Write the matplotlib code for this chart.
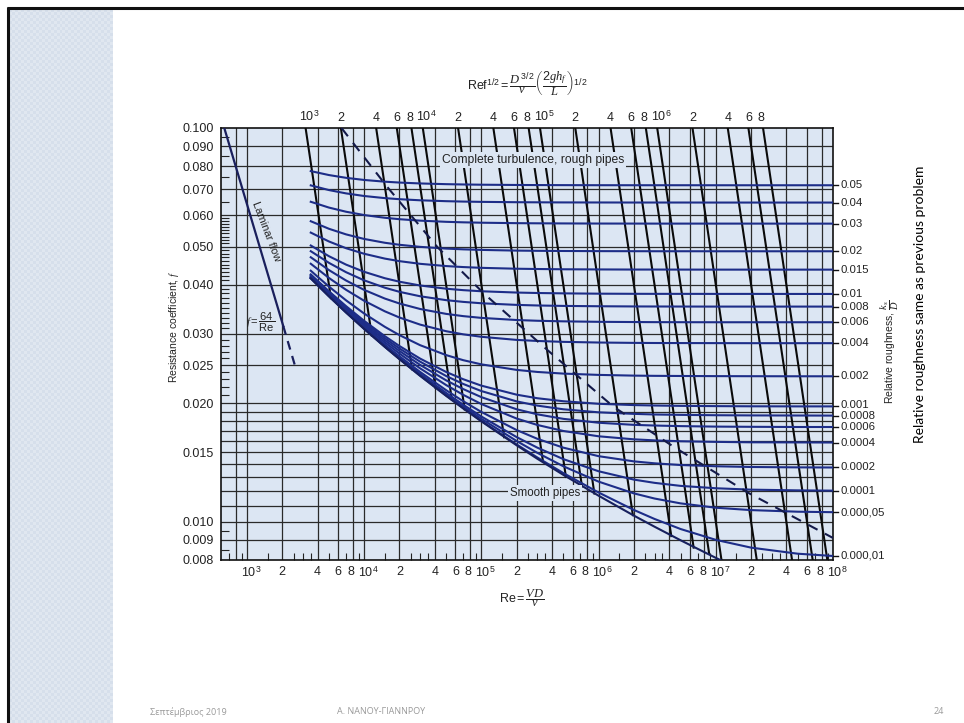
import numpy as np
import matplotlib
matplotlib.use("Agg")
import matplotlib.pyplot as plt
import matplotlib.transforms as mtransforms
from matplotlib.colors import ListedColormap
from matplotlib.lines import Line2D
from matplotlib.ticker import NullFormatter, NullLocator

plt.rcParams['font.family'] = ['Liberation Sans', 'DejaVu Sans']
plt.rcParams['mathtext.fontset'] = 'custom'
plt.rcParams['mathtext.rm'] = 'Liberation Sans'
plt.rcParams['mathtext.it'] = 'Liberation Serif:italic'
plt.rcParams['mathtext.bf'] = 'Liberation Sans:bold'

re_pts = [3500, 5000, 7000, 1e4, 1.5e4, 2e4, 3e4, 5e4, 7e4, 1e5, 2e5, 3e5, 5e5,
          1e6, 2e6, 3e6, 5e6, 1e7, 2e7, 5e7, 1e8]

# resistance coefficient f for each relative roughness
f_r05 = [0.07772, 0.07595, 0.07473, 0.07380, 0.07306, 0.07269, 0.07231, 0.07201, 0.07188, 0.07178, 0.07167, 0.07163, 0.07160, 0.07157, 0.07156, 0.07156, 0.07156, 0.07155, 0.07155, 0.07155, 0.07155]
f_r04 = [0.07150, 0.06957, 0.06823, 0.06719, 0.06637, 0.06595, 0.06553, 0.06519, 0.06504, 0.06493, 0.06480, 0.06476, 0.06472, 0.06470, 0.06468, 0.06468, 0.06468, 0.06467, 0.06467, 0.06467, 0.06467]
f_r03 = [0.06496, 0.06280, 0.06129, 0.06011, 0.05916, 0.05867, 0.05818, 0.05778, 0.05761, 0.05748, 0.05733, 0.05728, 0.05724, 0.05720, 0.05719, 0.05718, 0.05718, 0.05718, 0.05718, 0.05717, 0.05717]
f_r02 = [0.05798, 0.05548, 0.05369, 0.05227, 0.05112, 0.05052, 0.04991, 0.04941, 0.04919, 0.04903, 0.04883, 0.04877, 0.04872, 0.04868, 0.04866, 0.04865, 0.04865, 0.04864, 0.04864, 0.04864, 0.04864]
f_r015 = [0.05425, 0.05151, 0.04952, 0.04793, 0.04660, 0.04591, 0.04520, 0.04461, 0.04435, 0.04415, 0.04392, 0.04385, 0.04378, 0.04374, 0.04371, 0.04371, 0.04370, 0.04369, 0.04369, 0.04369, 0.04369]
f_r01 = [0.05031, 0.04726, 0.04499, 0.04313, 0.04155, 0.04071, 0.03982, 0.03908, 0.03875, 0.03850, 0.03821, 0.03811, 0.03803, 0.03796, 0.03793, 0.03792, 0.03792, 0.03791, 0.03791, 0.03790, 0.03790]
f_r008 = [0.04866, 0.04546, 0.04304, 0.04103, 0.03931, 0.03837, 0.03739, 0.03655, 0.03618, 0.03589, 0.03555, 0.03543, 0.03534, 0.03527, 0.03523, 0.03522, 0.03521, 0.03520, 0.03520, 0.03520, 0.03520]
f_r006 = [0.04697, 0.04358, 0.04100, 0.03880, 0.03689, 0.03584, 0.03471, 0.03373, 0.03329, 0.03295, 0.03254, 0.03240, 0.03229, 0.03220, 0.03216, 0.03214, 0.03213, 0.03212, 0.03212, 0.03212, 0.03212]
f_r004 = [0.04522, 0.04162, 0.03883, 0.03641, 0.03424, 0.03302, 0.03168, 0.03048, 0.02993, 0.02950, 0.02897, 0.02879, 0.02864, 0.02853, 0.02847, 0.02845, 0.02844, 0.02843, 0.02842, 0.02842, 0.02842]
f_r002 = [0.04341, 0.03957, 0.03651, 0.03379, 0.03127, 0.02979, 0.02809, 0.02651, 0.02573, 0.02511, 0.02431, 0.02402, 0.02379, 0.02361, 0.02351, 0.02348, 0.02346, 0.02344, 0.02343, 0.02342, 0.02342]
f_r001 = [0.04248, 0.03850, 0.03529, 0.03238, 0.02961, 0.02795, 0.02597, 0.02402, 0.02302, 0.02217, 0.02103, 0.02060, 0.02024, 0.01994, 0.01979, 0.01974, 0.01970, 0.01967, 0.01965, 0.01964, 0.01964]
f_r0008 = [0.04229, 0.03828, 0.03504, 0.03209, 0.02926, 0.02755, 0.02551, 0.02346, 0.02239, 0.02148, 0.02022, 0.01973, 0.01931, 0.01897, 0.01880, 0.01873, 0.01869, 0.01865, 0.01863, 0.01862, 0.01861]
f_r0006 = [0.04210, 0.03806, 0.03478, 0.03179, 0.02891, 0.02715, 0.02503, 0.02287, 0.02173, 0.02073, 0.01931, 0.01875, 0.01826, 0.01785, 0.01763, 0.01756, 0.01750, 0.01745, 0.01743, 0.01741, 0.01741]
f_r0004 = [0.04191, 0.03784, 0.03453, 0.03149, 0.02855, 0.02674, 0.02453, 0.02225, 0.02101, 0.01991, 0.01829, 0.01762, 0.01701, 0.01649, 0.01620, 0.01610, 0.01602, 0.01596, 0.01592, 0.01591, 0.01590]
f_r0002 = [0.04172, 0.03762, 0.03427, 0.03119, 0.02818, 0.02632, 0.02402, 0.02159, 0.02024, 0.01901, 0.01710, 0.01625, 0.01543, 0.01468, 0.01424, 0.01408, 0.01394, 0.01384, 0.01378, 0.01375, 0.01374]
f_r0001 = [0.04162, 0.03750, 0.03414, 0.03104, 0.02799, 0.02610, 0.02375, 0.02125, 0.01983, 0.01851, 0.01641, 0.01543, 0.01443, 0.01344, 0.01280, 0.01256, 0.01234, 0.01217, 0.01207, 0.01202, 0.01200]
f_r00005 = [0.04158, 0.03745, 0.03408, 0.03096, 0.02790, 0.02599, 0.02362, 0.02107, 0.01962, 0.01826, 0.01604, 0.01497, 0.01384, 0.01265, 0.01181, 0.01146, 0.01114, 0.01086, 0.01071, 0.01061, 0.01058]
f_r00001 = [0.04154, 0.03740, 0.03402, 0.03090, 0.02782, 0.02591, 0.02351, 0.02093, 0.01945, 0.01804, 0.01572, 0.01457, 0.01330, 0.01187, 0.01072, 0.01017, 0.00959, 0.00900, 0.00860, 0.00830, 0.00819]
f_smooth = [0.04153, 0.03739, 0.03401, 0.03088, 0.02781, 0.02588, 0.02348, 0.02089, 0.01940, 0.01799, 0.01564, 0.01446, 0.01316, 0.01165, 0.01037, 0.00972, 0.00898, 0.00810, 0.00734, 0.00649, 0.00594]

rough_curves = [f_r05, f_r04, f_r03, f_r02, f_r015, f_r01, f_r008, f_r006, f_r004,
                f_r002, f_r001, f_r0008, f_r0006, f_r0004, f_r0002, f_r0001, f_r00005, f_r00001]
rough_labels = ['0.05', '0.04', '0.03', '0.02', '0.015', '0.01', '0.008', '0.006', '0.004',
                '0.002', '0.001', '0.0008', '0.0006', '0.0004', '0.0002', '0.0001', '0.000,05', '0.000,01']

# laminar line f = 64/Re
lam_re = [640, 2040]
lam_f = [0.100, 0.0314]
lam_dash_re = [2040, 2600]
lam_dash_f = [0.0314, 0.0246]

# dashed boundary of complete turbulence
bound_re = [6400, 15700, 42000, 1.04e5, 3.66e5, 1.34e6, 4.38e6, 1.88e7, 1.0e8]
bound_f = [0.100, 0.0709, 0.0499, 0.0381, 0.0273, 0.0196, 0.0155, 0.01186, 0.0091]

# lines of constant Re f^1/2 (top scale) and the f where each one stops
top_c = [1e3, 2e3, 4e3, 6e3, 8e3, 1e4, 2e4, 4e4, 6e4, 8e4, 1e5, 2e5, 4e5, 6e5, 8e5,
         1e6, 2e6, 4e6, 6e6, 8e6]
top_end_f = [0.0370, 0.0297, 0.0244, 0.0219, 0.0204, 0.0193, 0.0164, 0.0142, 0.0130, 0.0123,
             0.0118, 0.0104, 0.0092, 0.0086, 0.0083, 0.008, 0.008, 0.008, 0.008, 0.008]
top_labels = ['$10^3$', '2', '4', '6', '8', '$10^4$', '2', '4', '6', '8',
              '$10^5$', '2', '4', '6', '8', '$10^6$', '2', '4', '6', '8']

bot_re = [1e3, 2e3, 4e3, 6e3, 8e3, 1e4, 2e4, 4e4, 6e4, 8e4, 1e5, 2e5, 4e5, 6e5, 8e5,
          1e6, 2e6, 4e6, 6e6, 8e6, 1e7, 2e7, 4e7, 6e7, 8e7, 1e8]
bot_labels = ['$10^3$', '2', '4', '6', '8', '$10^4$', '2', '4', '6', '8',
              '$10^5$', '2', '4', '6', '8', '$10^6$', '2', '4', '6', '8',
              '$10^7$', '2', '4', '6', '8', '$10^8$']

f_ticks = [0.1, 0.09, 0.08, 0.07, 0.06, 0.05, 0.04, 0.03, 0.025, 0.02, 0.015, 0.01, 0.009, 0.008]
f_lines = [0.019, 0.018, 0.017, 0.016, 0.014, 0.013, 0.012, 0.011]

W, H = 964, 723
BG = '#dce6f3'
NAVY = '#1d2d88'
INK = '#222222'


def fx(x):
    return x / W


def fy(y):
    return 1 - y / H


fig = plt.figure(figsize=(W / 100, H / 100), dpi=100)

# slide decoration
side = fig.add_axes([fx(9), 0, fx(104), fy(9)])
tile = np.indices((238, 35)).sum(axis=0) % 2
side.imshow(tile, cmap=ListedColormap(['#d6dfeb', '#e0e7f0']), aspect='auto', interpolation='nearest')
side.axis('off')
fig.add_artist(Line2D([fx(7), 1], [fy(8), fy(8)], color='#111111', lw=2.2, solid_capstyle='butt'))
fig.add_artist(Line2D([fx(8), fx(8)], [0, fy(7)], color='#111111', lw=2.2, solid_capstyle='butt'))

ax = fig.add_axes([fx(221), fy(560), fx(833 - 221), (560 - 128) / H])
ax.set_xscale('log')
ax.set_yscale('log')
ax.set_xlim(600, 1e8)
ax.set_ylim(0.008, 0.1)
ax.set_facecolor(BG)
for s in ax.spines.values():
    s.set_color('#111111')
    s.set_linewidth(1.2)

# grid
for r in [8e2] + bot_re[:-1]:
    ax.axvline(r, color='#2a2a2a', lw=0.9, zorder=1)
for f in f_ticks[1:-1] + f_lines:
    ax.axhline(f, color='#2a2a2a', lw=0.9, zorder=1)

# roughness curves
for fv in rough_curves:
    ax.plot(re_pts, fv, color=NAVY, lw=1.5, zorder=4)
ax.plot(re_pts, f_smooth, color='#17205e', lw=1.5, zorder=4)

# lines of constant Re f^1/2
for c, fe in zip(top_c, top_end_f):
    ax.plot([c / np.sqrt(0.1), c / np.sqrt(fe)], [0.1, fe], color='#0a0a0a', lw=1.5, zorder=3)

# laminar flow and the rough-pipe boundary
ax.plot(lam_re, lam_f, color='#1a1f5c', lw=1.6, zorder=4)
ax.plot(lam_dash_re, lam_dash_f, color='#1a1f5c', lw=1.6, ls=(0, (4, 3)), zorder=4)
ax.plot(bound_re, bound_f, color='#141a4a', lw=1.5, ls=(0, (5, 4)), zorder=5)

# axis ticks
ax.set_yticks(f_ticks, ['%.3f' % v for v in f_ticks])
minor_f = [0.095, 0.085, 0.075, 0.065] + [i / 1000 for i in range(21, 60) if i not in (25, 30, 40, 50)] + [0.0095, 0.0085]
ax.set_yticks(minor_f, minor=True)
ax.yaxis.set_minor_formatter(NullFormatter())
ax.tick_params(axis='y', which='major', length=0, pad=5, labelsize=9, labelcolor=INK)
ax.tick_params(axis='y', which='minor', direction='in', length=6, width=0.8, color='#222222')
ax.set_xticks(bot_re, bot_labels)
minor_re = [7e2, 9e2] + [m * 10 ** k for k in range(3, 8) for m in (1.5, 2.5, 3, 3.5, 5, 7, 9)]
ax.set_xticks(minor_re, minor=True)
ax.xaxis.set_minor_formatter(NullFormatter())
ax.tick_params(axis='x', which='major', length=0, pad=4, labelsize=9, labelcolor=INK)
ax.tick_params(axis='x', which='minor', direction='in', length=5, width=0.8, color='#222222')

tw = ax.twiny()
tw.set_xscale('log')
tw.set_xlim(600 * np.sqrt(0.1), 1e8 * np.sqrt(0.1))
tw.set_xticks(top_c, top_labels)
tw.xaxis.set_minor_locator(NullLocator())
tw.tick_params(axis='x', length=0, pad=3, labelsize=9, labelcolor=INK)
for s in tw.spines.values():
    s.set_visible(False)


def shift(dx, dy):
    return mtransforms.ScaledTranslation(dx / 100, dy / 100, fig.dpi_scale_trans)


def nudge(labels, names):
    # decade labels sit a little right of their line, the 8s a little left
    for lab, txt in zip(labels, names):
        dx = 4 if txt.startswith('$10') else (-2 if txt == '8' else 0)
        lab.set_transform(lab.get_transform() + shift(dx, 0))


nudge(ax.xaxis.get_majorticklabels(), bot_labels)
nudge(tw.xaxis.get_majorticklabels(), top_labels)

# right roughness labels
tr = mtransforms.blended_transform_factory(ax.transAxes, ax.transData)
label_dy = {'0.001': 1.5, '0.0008': -0.8}
for fv, lab in zip(rough_curves, rough_labels):
    ax.plot([1.0, 1.008], [fv[-1], fv[-1]], transform=tr, color='#111111', lw=1.0, clip_on=False)
    ax.text(1.012, fv[-1], lab, transform=tr + shift(0, label_dy.get(lab, 0)), fontsize=8.2,
            va='center', ha='left', color=INK)

box = dict(facecolor=BG, edgecolor='none', pad=1.5)
ax.text(2.75e5, 0.0830, 'Complete turbulence, rough pipes', fontsize=8.7, ha='center', va='center',
        color=INK, bbox=box, zorder=6)
ax.text(3.5e5, 0.01186, 'Smooth pipes', fontsize=8.3, ha='center', va='center',
        color=INK, bbox=box, zorder=6)
ax.text(1452, 0.0545, 'Laminar flow', fontsize=8, ha='center', va='center', rotation=-69,
        rotation_mode='anchor', color=INK, zorder=6)
ax.text(1300, 0.0322, r'$f = \dfrac{64}{\mathrm{Re}}$', fontsize=8, ha='center', va='center',
        color=INK, zorder=6)

# axis titles
fig.text(fx(527), fy(84), r'$\mathrm{Ref}^{1/2} = \dfrac{D^{\,3/2}}{\nu}\left(\dfrac{2gh_f}{L}\right)^{1/2}$',
         fontsize=9, ha='center', va='center', color=INK)
fig.text(fx(522), fy(598), r'$\mathrm{Re} = \dfrac{VD}{\nu}$', fontsize=9, ha='center', va='center',
         color=INK)
fig.text(fx(174), fy(327), r'Resistance coefficient, $f$', fontsize=7.5, rotation=90,
         ha='center', va='center', color=INK)
fig.text(fx(890), fy(352), r'Relative roughness, $\dfrac{k_s}{D}$', fontsize=7.5, rotation=90,
         ha='center', va='center', color=INK)

# slide text
fig.text(fx(920), fy(304), 'Relative roughness same as previous problem', fontsize=10,
         rotation=90, ha='center', va='center', family=['Lato', 'DejaVu Sans'], color='black')
foot = dict(fontsize=6.5, color='#9a9a9a', va='center', family=['Open Sans', 'DejaVu Sans'])
fig.text(fx(150), fy(712), 'Σεπτέμβριος 2019', ha='left', **foot)
fig.text(fx(381), fy(712), 'Α. ΝΑΝΟΥ-ΓΙΑΝΝΡΟΥ', ha='center', **foot)
fig.text(fx(944), fy(712), '24', ha='right', **foot)

fig.savefig('out.png', dpi=100)
